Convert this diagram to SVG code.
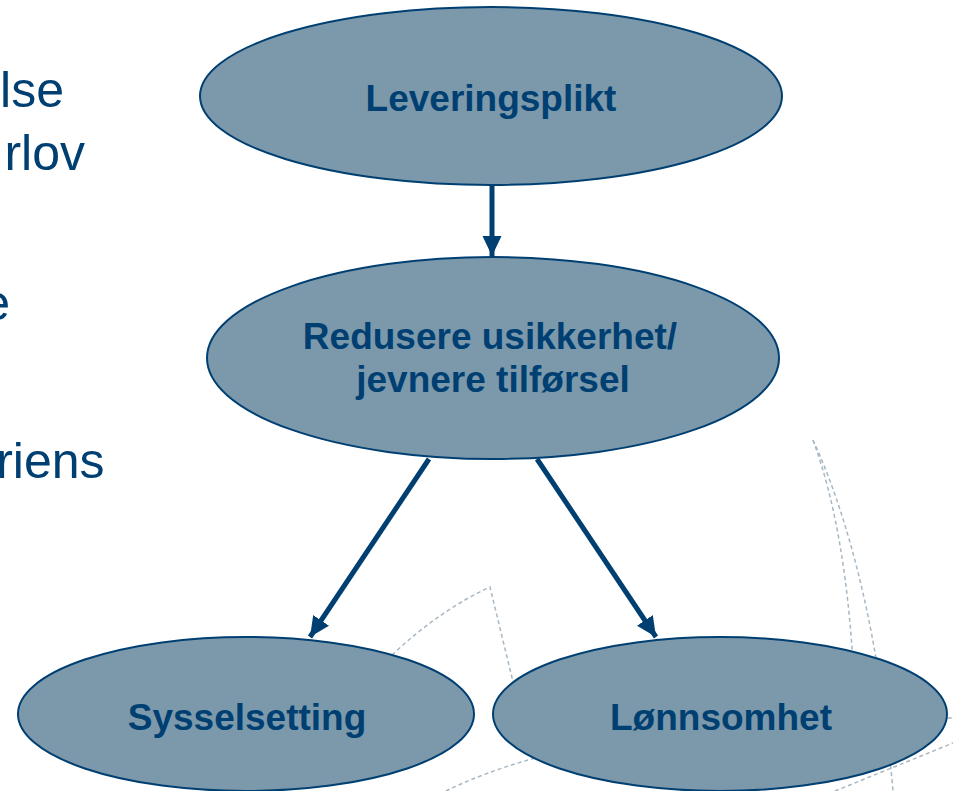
<svg xmlns="http://www.w3.org/2000/svg" width="953" height="791" viewBox="0 0 953 791">
<style>
.bg{fill:none;stroke:#a7b8c5;stroke-width:1.5;stroke-dasharray:4 3}
.side{font-family:"Liberation Sans",Arial,sans-serif;font-size:50px;fill:#003f72;text-anchor:end}
.node ellipse{fill:#7b99aa;stroke:#003f72;stroke-width:2}
.node text{font-family:"Liberation Sans",Arial,sans-serif;font-size:37px;font-weight:bold;fill:#003f72;text-anchor:middle}
.conn{stroke:#003f72;stroke-width:5;fill:none}
</style>
<defs>
<marker id="ah" markerUnits="userSpaceOnUse" markerWidth="22" markerHeight="22" viewBox="0 0 22 22" refX="20" refY="11" orient="auto">
<path d="M0,1.5 L20,11 L0,20.5 Z" fill="#003f72"/>
</marker>
</defs>
<g id="background">
<path class="bg" d="M813,440 C835,500 850,580 855,700"/>
<path class="bg" d="M813,440 C850,520 880,640 893,791"/>
<path class="bg" d="M392,655 Q440,610 490,587 L515,690"/>
<path class="bg" d="M446,791 Q600,715 953,718"/>
<path class="bg" d="M835,791 L953,743"/>
</g>
<g id="side-text">
<text class="side" x="64" y="107">lse</text>
<text class="side" x="85" y="170">rlov</text>
<text class="side" x="10" y="320">e</text>
<text class="side" x="104.5" y="478">riens</text>
</g>
<g id="nodes">
<g id="leveringsplikt" class="node">
<ellipse cx="491" cy="96" rx="291" ry="89"/>
<text x="491" y="111">Leveringsplikt</text>
</g>
<g id="redusere" class="node">
<ellipse cx="493" cy="358" rx="286" ry="101"/>
<text x="490" y="349">Redusere usikkerhet/</text>
<text x="493" y="392">jevnere tilførsel</text>
</g>
<g id="sysselsetting" class="node">
<ellipse cx="246" cy="714" rx="228" ry="77"/>
<text x="247" y="730">Sysselsetting</text>
</g>
<g id="lonnsomhet" class="node">
<ellipse cx="720" cy="714" rx="227" ry="77"/>
<text x="721" y="730">Lønnsomhet</text>
</g>
</g>
<g id="connectors">
<line class="conn" x1="492" y1="185" x2="492" y2="256" marker-end="url(#ah)"/>
<line class="conn" x1="429" y1="459" x2="310" y2="637" marker-end="url(#ah)"/>
<line class="conn" x1="537" y1="459" x2="656" y2="637" marker-end="url(#ah)"/>
</g>
</svg>
